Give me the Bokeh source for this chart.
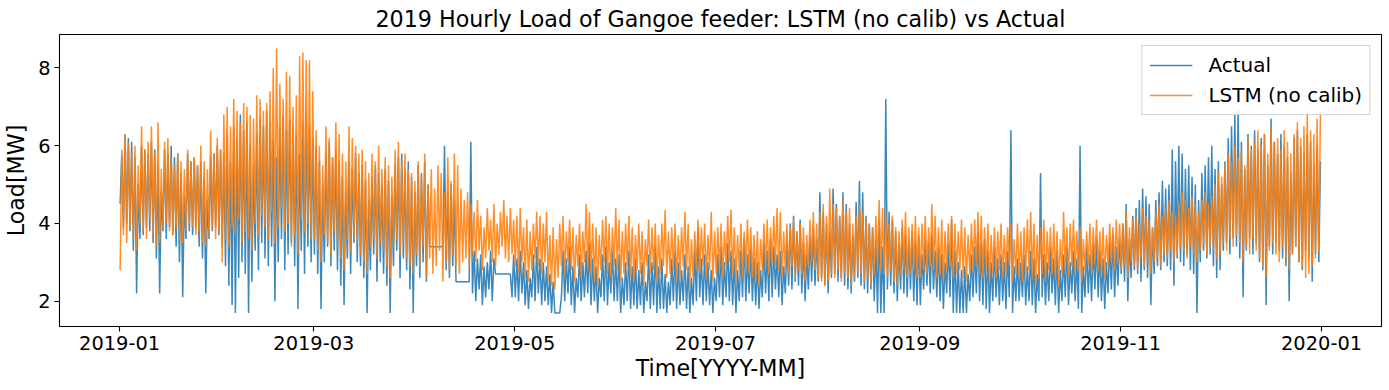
import pandas as pd
from bokeh.plotting import figure
from bokeh.models import Range1d, FixedTicker, DatetimeTickFormatter, Legend, LegendItem
from bokeh.embed import file_html
from bokeh.resources import INLINE

TITLE = "2019 Hourly Load of Gangoe feeder: LSTM (no calib) vs Actual"
X_LABEL = "Time[YYYY-MM]"
Y_LABEL = "Load[MW]"
SERIES_NAMES = ["Actual", "LSTM (no calib)"]
MONTH_TICKS = ["2019-01", "2019-03", "2019-05", "2019-07", "2019-09", "2019-11", "2020-01"]
Y_TICKS = [2, 4, 6, 8]
DATA_START = "2019-01-01 00:00"
DATA_END = "2019-12-31 23:00"

# Daily peak / trough of the hourly load (MW), one list per month
ACTUAL_PEAK = [
    [5.8, 6.3, 6.2, 6.1, 5.7, 5.0, 6.0, 5.9, 5.8, 6.1, 5.9, 5.5, 4.8, 5.9, 5.8, 6.0, 5.7, 5.8, 5.3, 4.7, 5.8, 5.6, 5.7, 5.5, 5.6, 5.2, 4.6, 5.7, 5.8, 6.0, 5.9],
    [5.8, 6.3, 5.6, 6.5, 6.2, 6.8, 6.4, 6.6, 6.0, 5.5, 6.3, 6.7, 6.5, 6.9, 6.6, 6.2, 5.7, 6.5, 6.8, 6.4, 6.7, 6.5, 6.3, 5.8, 6.6, 6.9, 6.5, 6.2],
    [6.0, 5.6, 5.0, 5.8, 6.1, 5.7, 5.9, 5.6, 5.2, 4.8, 5.6, 5.4, 5.8, 5.3, 5.5, 5.1, 4.6, 5.2, 5.5, 5.3, 5.0, 5.4, 5.1, 4.7, 5.5, 5.7, 5.8, 5.4, 5.6, 5.2, 4.8],
    [5.5, 5.3, 5.6, 5.0, 3.4, 3.4, 3.4, 3.4, 6.0, 4.8, 5.0, 4.6, 2.5, 2.5, 2.5, 2.5, 6.1, 3.3, 3.1, 3.2, 2.9, 3.0, 3.3, 3.1, 2.7, 2.7, 2.7, 2.7, 2.7, 3.2],
    [3.1, 3.3, 3.0, 2.8, 2.6, 3.2, 3.4, 3.1, 3.0, 2.9, 2.7, 2.5, 1.7, 1.7, 3.3, 3.1, 3.4, 2.9, 2.6, 3.2, 3.0, 3.3, 3.5, 3.1, 2.9, 2.6, 3.2, 3.4, 3.0, 3.3, 3.1],
    [3.2, 2.6, 3.0, 3.3, 2.9, 3.1, 2.8, 3.0, 2.5, 3.2, 3.0, 3.4, 2.9, 3.1, 2.7, 2.5, 3.1, 3.3, 3.0, 2.8, 3.2, 2.9, 2.6, 3.3, 3.9, 3.1, 3.2, 3.0, 2.8, 2.6],
    [3.2, 3.4, 3.0, 3.5, 3.3, 3.1, 2.8, 3.3, 3.6, 3.2, 3.4, 3.1, 3.0, 2.8, 3.5, 3.3, 3.6, 3.4, 3.2, 3.3, 2.9, 3.6, 4.0, 4.2, 3.8, 4.1, 3.5, 3.2, 3.7, 3.9, 3.6],
    [4.8, 4.3, 4.0, 3.8, 4.9, 4.5, 4.2, 4.8, 4.5, 4.0, 3.7, 4.55, 5.1, 4.8, 4.2, 4.0, 3.9, 3.6, 4.1, 3.4, 7.2, 4.3, 4.1, 3.8, 3.5, 3.9, 3.7, 3.6, 3.8, 3.5, 3.7],
    [3.2, 3.6, 3.5, 3.7, 3.3, 3.4, 3.2, 3.0, 3.5, 4.1, 3.3, 3.0, 2.8, 2.9, 2.7, 3.2, 3.4, 3.8, 3.5, 3.6, 3.3, 3.0, 3.4, 3.1, 3.2, 3.0, 3.3, 6.4, 2.9, 3.1],
    [3.0, 3.2, 2.9, 3.3, 3.1, 2.7, 5.3, 3.2, 3.0, 3.4, 3.1, 3.3, 2.8, 3.2, 3.4, 3.0, 3.3, 3.1, 6.0, 2.9, 3.4, 3.2, 3.5, 3.6, 3.3, 3.1, 3.0, 3.5, 3.7, 3.4, 3.6],
    [4.0, 4.5, 3.6, 4.2, 4.4, 4.6, 4.9, 4.7, 4.5, 3.9, 4.6, 4.8, 5.1, 4.9, 5.0, 5.9, 5.6, 6.0, 5.8, 5.4, 5.5, 5.2, 5.0, 4.6, 5.3, 5.5, 5.7, 6.0, 5.4, 5.6],
    [5.0, 5.6, 6.2, 6.5, 6.8, 6.9, 6.1, 5.4, 6.3, 6.0, 6.4, 5.9, 6.2, 6.3, 5.5, 6.7, 6.1, 5.8, 6.3, 6.0, 5.7, 5.3, 6.2, 6.4, 6.0, 5.8, 6.3, 6.1, 5.5, 6.0, 5.6],
]
ACTUAL_TROUGH = [
    [4.5, 3.9, 4.0, 3.8, 3.3, 2.2, 3.6, 3.7, 3.9, 3.8, 3.5, 3.1, 2.2, 3.8, 3.6, 3.9, 3.7, 3.4, 3.0, 2.1, 3.6, 3.8, 3.7, 3.9, 3.4, 3.1, 2.2, 3.6, 3.8, 3.9, 3.7],
    [3.4, 2.9, 2.4, 1.9, 1.7, 2.6, 3.0, 2.7, 1.7, 2.5, 3.3, 2.8, 3.5, 3.1, 2.9, 3.4, 2.0, 3.0, 3.6, 2.8, 3.2, 3.5, 2.9, 1.8, 3.3, 2.7, 3.4, 3.0],
    [3.2, 2.7, 1.8, 3.0, 3.4, 2.9, 3.3, 2.8, 2.4, 1.9, 3.1, 2.7, 3.5, 3.0, 2.9, 2.6, 1.7, 2.8, 3.2, 2.5, 3.0, 2.7, 2.4, 1.7, 2.9, 3.3, 2.6, 3.1, 2.8, 2.3, 1.7],
    [2.9, 2.6, 3.0, 2.5, 3.4, 3.4, 3.4, 3.4, 3.4, 2.8, 2.6, 2.9, 2.5, 2.5, 2.5, 2.5, 2.5, 2.2, 2.0, 2.3, 1.9, 2.1, 2.3, 2.0, 2.7, 2.7, 2.7, 2.7, 2.7, 2.1],
    [2.1, 2.0, 2.2, 1.9, 1.8, 2.1, 2.0, 2.2, 1.9, 2.0, 1.9, 1.7, 1.7, 1.7, 2.1, 2.0, 2.2, 1.9, 1.7, 2.1, 2.0, 2.1, 2.2, 1.9, 2.0, 1.7, 2.1, 2.0, 1.9, 2.2, 2.0],
    [2.0, 1.7, 1.9, 2.0, 1.8, 1.9, 1.8, 1.9, 1.7, 2.0, 1.8, 1.9, 1.7, 1.8, 1.8, 1.7, 1.9, 2.0, 1.8, 1.9, 2.0, 1.8, 1.7, 1.9, 2.0, 2.1, 1.9, 2.0, 1.9, 1.7],
    [2.0, 2.1, 1.9, 2.1, 2.0, 1.9, 1.7, 2.0, 2.1, 2.0, 2.2, 2.0, 1.9, 1.8, 2.1, 2.2, 2.0, 2.1, 2.3, 2.1, 1.9, 2.2, 2.4, 2.3, 2.5, 2.4, 2.2, 2.0, 2.3, 2.5, 2.4],
    [2.5, 2.6, 2.4, 2.2, 2.6, 2.7, 2.5, 2.6, 2.4, 2.3, 2.2, 2.5, 2.6, 2.4, 2.3, 2.2, 2.3, 2.0, 1.7, 1.7, 1.7, 2.3, 2.4, 2.2, 2.0, 2.3, 2.2, 2.1, 2.3, 2.0, 1.9],
    [1.9, 2.3, 2.4, 2.2, 2.3, 2.1, 2.0, 1.8, 2.2, 2.1, 1.7, 1.7, 1.7, 1.7, 1.7, 2.0, 2.1, 2.2, 2.0, 1.9, 1.8, 1.7, 2.0, 2.1, 1.9, 2.0, 1.8, 2.1, 1.7, 2.0],
    [2.0, 2.1, 1.9, 2.0, 1.9, 1.7, 2.0, 2.1, 1.9, 2.0, 2.2, 1.9, 1.7, 2.0, 2.1, 1.9, 2.2, 2.0, 1.8, 1.7, 2.1, 2.2, 2.0, 2.3, 2.1, 2.0, 1.8, 2.2, 2.3, 2.1, 2.4],
    [2.7, 2.5, 2.0, 2.6, 2.8, 2.7, 2.5, 2.8, 2.6, 1.9, 2.7, 2.9, 2.8, 3.0, 2.9, 2.8, 2.4, 3.1, 3.0, 2.9, 3.2, 2.8, 2.7, 1.7, 3.0, 3.3, 3.1, 3.2, 2.9, 2.6],
    [2.8, 3.3, 3.5, 3.2, 3.6, 3.4, 3.1, 2.1, 3.3, 3.6, 3.2, 3.5, 3.0, 2.8, 1.9, 3.4, 3.2, 3.5, 3.3, 3.1, 2.9, 2.0, 3.2, 3.4, 3.0, 2.8, 3.3, 3.1, 2.5, 3.2, 3.0],
]
LSTM_PEAK = [
    [5.9, 6.3, 6.1, 5.8, 6.0, 5.5, 6.5, 5.9, 6.1, 6.5, 5.8, 6.6, 5.4, 6.1, 6.2, 5.7, 5.5, 5.8, 5.6, 5.4, 5.9, 5.6, 5.7, 5.5, 6.0, 5.6, 5.4, 6.4, 5.8, 6.2, 5.9],
    [6.8, 7.0, 6.5, 7.2, 6.9, 6.6, 7.1, 7.0, 6.8, 6.7, 7.3, 7.2, 6.9, 7.1, 7.4, 8.0, 8.5, 7.6, 7.2, 7.9, 7.8, 7.0, 7.3, 8.3, 8.4, 8.2, 8.2, 7.4],
    [6.4, 6.0, 5.5, 6.5, 6.2, 5.7, 6.6, 6.3, 5.8, 5.6, 6.5, 6.2, 6.0, 5.8, 5.9, 5.6, 5.3, 5.8, 5.6, 6.0, 5.4, 5.7, 5.5, 5.2, 5.9, 6.1, 5.6, 5.8, 5.4, 5.3, 5.1],
    [5.6, 5.2, 5.8, 5.0, 5.4, 4.9, 5.5, 5.3, 4.8, 5.7, 5.1, 5.8, 5.5, 4.9, 4.6, 4.8, 4.5, 4.3, 4.6, 4.2, 3.9, 4.4, 4.1, 4.5, 4.0, 4.3, 4.6, 4.2, 4.4, 4.1],
    [4.2, 4.4, 3.9, 4.1, 3.8, 4.0, 4.3, 4.2, 4.0, 4.3, 3.7, 3.9, 3.6, 4.0, 4.2, 3.8, 4.1, 3.9, 3.7, 4.0, 3.8, 4.5, 4.3, 4.0, 3.9, 3.7, 4.1, 4.2, 4.0, 3.9, 4.4],
    [4.1, 3.8, 4.0, 4.2, 3.9, 3.7, 4.0, 3.8, 3.6, 4.1, 3.9, 4.0, 3.7, 4.0, 4.35, 3.8, 3.9, 4.0, 3.7, 3.9, 4.3, 4.0, 3.6, 3.8, 4.1, 3.9, 4.0, 3.7, 4.3, 3.8],
    [3.9, 4.0, 3.8, 4.2, 4.35, 3.9, 3.7, 4.0, 3.8, 4.1, 3.9, 3.7, 3.8, 3.6, 4.0, 4.1, 3.9, 4.2, 4.4, 4.3, 3.8, 4.0, 3.9, 4.1, 3.8, 4.0, 3.9, 3.7, 4.1, 4.3, 4.0],
    [4.3, 4.5, 4.2, 4.9, 4.5, 4.4, 4.2, 4.6, 4.3, 4.4, 4.0, 4.2, 4.5, 4.3, 4.1, 4.0, 3.9, 4.2, 4.6, 4.4, 4.3, 4.0, 4.2, 3.9, 3.8, 4.1, 4.3, 3.9, 4.0, 4.2, 3.9],
    [4.0, 4.2, 3.9, 4.5, 4.2, 3.9, 4.1, 3.8, 4.0, 4.2, 4.0, 3.8, 4.1, 3.9, 3.7, 4.0, 4.1, 4.3, 4.2, 3.9, 4.0, 3.7, 3.9, 3.8, 4.0, 3.7, 3.9, 4.0, 3.6, 4.0],
    [3.8, 3.9, 4.1, 4.3, 4.0, 3.7, 3.9, 4.1, 3.8, 3.9, 4.0, 3.8, 3.6, 4.3, 3.9, 4.0, 4.1, 3.8, 3.9, 3.6, 3.8, 4.0, 3.9, 4.1, 3.8, 3.9, 3.7, 4.0, 3.9, 4.1, 4.0],
    [4.0, 4.3, 3.9, 4.1, 4.2, 4.0, 4.4, 4.2, 4.1, 3.9, 4.3, 4.5, 4.2, 4.4, 4.6, 4.3, 4.2, 4.5, 4.8, 4.6, 4.4, 4.7, 4.5, 4.3, 4.6, 4.8, 4.5, 4.7, 5.0, 5.3],
    [5.2, 5.5, 5.8, 5.6, 6.0, 5.7, 5.9, 5.5, 6.2, 5.9, 6.1, 6.4, 6.0, 6.3, 5.8, 6.5, 6.1, 6.2, 5.9, 6.4, 6.1, 5.8, 6.3, 6.6, 6.2, 6.5, 6.9, 6.4, 6.3, 6.7, 6.9],
]
LSTM_TROUGH = [
    [2.8, 3.7, 3.5, 3.9, 3.6, 3.3, 4.0, 3.8, 3.6, 4.1, 3.7, 3.4, 3.5, 3.9, 4.0, 3.8, 3.7, 3.9, 3.6, 3.5, 3.8, 4.0, 3.9, 3.7, 3.8, 3.5, 3.4, 3.7, 3.9, 3.6, 3.8],
    [3.0, 3.6, 3.4, 3.9, 3.7, 4.1, 3.5, 3.8, 3.6, 3.3, 4.0, 3.7, 4.2, 3.9, 3.6, 4.3, 3.5, 3.9, 4.4, 3.8, 4.0, 3.4, 3.7, 3.2, 4.1, 3.8, 4.0, 3.6],
    [3.6, 3.3, 3.0, 3.7, 3.5, 3.2, 3.8, 3.4, 3.1, 2.8, 3.6, 3.3, 3.7, 3.5, 3.2, 3.0, 2.7, 3.4, 3.6, 3.1, 3.5, 3.3, 2.9, 2.6, 3.4, 3.6, 3.2, 3.5, 3.1, 2.9, 2.7],
    [3.2, 2.9, 3.4, 2.6, 3.1, 2.7, 2.9, 3.3, 2.5, 3.0, 2.8, 3.2, 2.9, 2.7, 3.0, 3.1, 2.9, 3.2, 3.0, 3.3, 2.8, 3.1, 3.3, 3.0, 2.9, 3.2, 3.4, 3.1, 3.0, 3.2],
    [2.9, 2.7, 3.0, 2.6, 2.5, 2.8, 3.1, 2.9, 2.7, 3.0, 2.5, 2.4, 2.3, 2.6, 2.9, 2.7, 3.0, 2.8, 2.5, 2.9, 2.6, 3.0, 2.8, 2.7, 2.5, 2.4, 2.8, 3.0, 2.7, 2.6, 2.9],
    [2.8, 2.5, 2.7, 2.9, 2.6, 2.5, 2.8, 2.7, 2.4, 2.9, 2.7, 2.8, 2.5, 2.7, 2.9, 2.6, 2.7, 2.8, 2.5, 2.6, 2.9, 2.8, 2.4, 2.6, 2.8, 2.7, 2.9, 2.6, 2.8, 2.5],
    [2.7, 2.8, 2.6, 2.9, 3.0, 2.7, 2.5, 2.8, 2.6, 2.9, 2.7, 2.6, 2.5, 2.4, 2.8, 2.9, 2.7, 3.0, 2.9, 2.8, 2.6, 2.8, 2.7, 2.9, 2.6, 2.8, 2.7, 2.5, 2.9, 3.0, 2.8],
    [2.6, 2.5, 2.4, 2.5, 2.7, 2.6, 2.8, 2.5, 2.7, 2.6, 2.4, 2.6, 2.8, 2.7, 2.5, 2.6, 2.4, 2.7, 2.9, 2.8, 2.7, 2.6, 2.8, 2.5, 2.4, 2.7, 2.8, 2.6, 2.7, 2.8, 2.6],
    [2.6, 2.8, 2.7, 2.9, 2.8, 2.6, 2.7, 2.5, 2.8, 2.9, 2.6, 2.7, 2.8, 2.6, 2.5, 2.7, 2.8, 2.9, 2.7, 2.6, 2.8, 2.5, 2.7, 2.6, 2.8, 2.6, 2.7, 2.9, 2.5, 2.7],
    [2.6, 2.5, 2.7, 2.8, 2.6, 2.4, 2.6, 2.7, 2.5, 2.8, 2.7, 2.6, 2.4, 2.7, 2.8, 2.6, 2.9, 2.7, 2.8, 2.5, 2.8, 2.9, 2.7, 3.0, 2.8, 2.7, 2.6, 2.9, 3.0, 2.8, 3.0],
    [2.8, 2.9, 2.6, 3.0, 2.9, 2.8, 3.1, 2.9, 3.0, 2.7, 3.0, 3.1, 2.9, 3.2, 3.1, 3.3, 3.0, 3.2, 3.4, 3.3, 3.1, 3.4, 3.2, 3.0, 3.3, 3.5, 3.2, 3.4, 3.3, 3.1],
    [3.2, 3.5, 3.3, 3.6, 3.4, 3.7, 3.5, 3.0, 3.4, 3.2, 3.6, 3.3, 3.1, 2.9, 2.6, 3.3, 3.5, 3.2, 3.0, 3.4, 3.1, 2.8, 3.2, 3.4, 3.0, 2.9, 2.6, 2.7, 2.9, 3.1, 3.3],
]

COLORS = ["#1f77b4", "#ff7f0e"]
FONT = "DejaVu Sans"


def build_series(peaks, troughs):
    times, values = [], []
    for m, (pk, tr) in enumerate(zip(peaks, troughs)):
        month_start = pd.Timestamp(2019, m + 1, 1)
        for d, (hi, lo) in enumerate(zip(pk, tr)):
            day = month_start + pd.Timedelta(days=d)
            times += [day + pd.Timedelta(hours=4), day + pd.Timedelta(hours=16)]
            values += [lo, hi]
    return times, values


act_t, act_v = build_series(ACTUAL_PEAK, ACTUAL_TROUGH)
lstm_t, lstm_v = build_series(LSTM_PEAK, LSTM_TROUGH)

t0 = pd.Timestamp(DATA_START)
t1 = pd.Timestamp(DATA_END)
pad = (t1 - t0) * 0.05
all_v = act_v + lstm_v
vpad = (max(all_v) - min(all_v)) * 0.05

p = figure(
    x_axis_type="datetime",
    frame_width=1322, frame_height=292,
    min_border_left=50, min_border_right=6, min_border_top=26, min_border_bottom=56,
    x_range=Range1d(start=(t0 - pad).to_pydatetime(), end=(t1 + pad).to_pydatetime()),
    y_range=Range1d(start=min(all_v) - vpad - 0.01, end=max(all_v) + vpad + 0.02),
    output_backend="svg", toolbar_location=None, title=TITLE,
)
p.background_fill_color = "white"
p.border_fill_color = "white"
p.outline_line_color = "black"
p.outline_line_width = 1.1
p.xgrid.visible = False
p.ygrid.visible = False

p.title.text_font = FONT
p.title.text_font_size = "22.2px"
p.title.text_font_style = "normal"
p.title.align = "center"
p.title.text_color = "black"
p.title.standoff = 6

r_act = p.line(act_t, act_v, line_color=COLORS[0], line_alpha=0.88, line_width=1.5)
r_lstm = p.line(lstm_t, lstm_v, line_color=COLORS[1], line_alpha=0.88, line_width=1.5)

tick_ms = [pd.Timestamp(s + "-01").value / 1e6 for s in MONTH_TICKS]
p.xaxis.ticker = FixedTicker(ticks=tick_ms)
fmt = "%Y-%m"
p.xaxis.formatter = DatetimeTickFormatter(
    microseconds=fmt, milliseconds=fmt, seconds=fmt, minsec=fmt, minutes=fmt,
    hourmin=fmt, hours=fmt, days=fmt, months=fmt, years=fmt,
)
p.yaxis.ticker = FixedTicker(ticks=Y_TICKS)

p.xaxis.axis_label = X_LABEL
p.yaxis.axis_label = Y_LABEL
for ax in (p.xaxis, p.yaxis):
    ax.axis_label_text_font = FONT
    ax.axis_label_text_font_size = "22.2px"
    ax.axis_label_text_font_style = "normal"
    ax.axis_label_text_color = "black"
    ax.major_label_text_font = FONT
    ax.major_label_text_font_size = "19.4px"
    ax.major_label_text_color = "black"
    ax.axis_line_color = None
    ax.major_tick_line_color = "black"
    ax.major_tick_line_width = 1.1
    ax.major_tick_in = 0
    ax.major_tick_out = 5
    ax.minor_tick_line_color = None
    ax.major_label_standoff = 4
p.xaxis.axis_label_standoff = 2
p.yaxis.axis_label_standoff = 6

legend = Legend(
    items=[LegendItem(label=SERIES_NAMES[0], renderers=[r_act]),
           LegendItem(label=SERIES_NAMES[1], renderers=[r_lstm])],
    location="top_right", margin=11, padding=7, spacing=6,
    glyph_width=43, glyph_height=24, label_height=24, label_standoff=16,
    label_text_font=FONT, label_text_font_size="20px", label_text_color="black",
    border_line_color="#cccccc", border_line_alpha=0.8, border_line_width=1,
    background_fill_color="white", background_fill_alpha=0.8,
)
p.add_layout(legend)

open("out.html", "w").write(file_html(p, INLINE))
